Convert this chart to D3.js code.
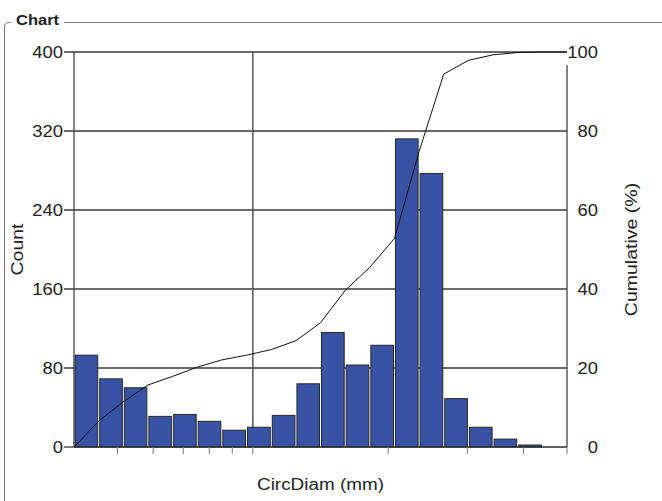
<!DOCTYPE html>
<html>
<head>
<meta charset="utf-8">
<script src="https://cdn.jsdelivr.net/npm/d3@7/dist/d3.min.js"></script>
<style>
  html, body { margin: 0; padding: 0; background: #fff; }
  svg { display: block; font-family: "Liberation Sans", Arial, sans-serif; }
</style>
</head>
<body>
<svg id="chart" width="662" height="501"></svg>
<script>
// ---- data ----
const binEdges = [4, 4.54, 5.15, 5.84, 6.63, 7.52, 8.53, 9.68, 10.99, 12.47, 14.14,
                  16.05, 18.21, 20.66, 23.44, 26.59, 30.17, 34.24, 38.84, 44.07, 50];
const counts = [93, 69, 60, 31, 33, 26, 17, 20, 32, 64, 116, 83, 103, 312, 277, 49, 20, 8, 2, 0];
const xTicks = [5, 6, 7, 8, 9, 10, 20, 30, 40, 50];
const xGrid = [10];
const countTicks = [0, 80, 160, 240, 320, 400];
const pctTicks = [0, 20, 40, 60, 80, 100];
const title = "Chart";
const xTitle = "CircDiam (mm)";
const yTitle = "Count";
const y2Title = "Cumulative (%)";

// ---- layout ----
const L = 74, R = 567, T = 52, B = 447;
const svg = d3.select("#chart");

const x = d3.scaleLog().domain([4, 50]).range([L, R]);
const y = d3.scaleLinear().domain([0, 400]).range([B, T]);
const y2 = d3.scaleLinear().domain([0, 100]).range([B, T]);

function stretch(sel, f) {
  sel.each(function () {
    const w = this.getComputedTextLength();
    d3.select(this).attr("textLength", w * f).attr("lengthAdjust", "spacingAndGlyphs");
  });
}

// frame (group box)
svg.append("path")
  .attr("d", "M4.5,501 L4.5,27 Q4.5,22.5 9,22.5 L11,22.5")
  .attr("fill", "none").attr("stroke", "#777").attr("stroke-width", 1);
svg.append("line").attr("x1", 64).attr("x2", 662).attr("y1", 22.5).attr("y2", 22.5)
  .attr("stroke", "#777").attr("stroke-width", 1);
svg.append("text").attr("x", 16).attr("y", 25).text(title)
  .attr("font-size", 15).attr("font-weight", "bold").attr("fill", "#222")
  .call(stretch, 1.1);

// horizontal gridlines (incl. left tick marks)
svg.append("g").selectAll("line").data(countTicks.filter(d => d > 0)).join("line")
  .attr("x1", 64).attr("x2", R).attr("y1", d => y(d)).attr("y2", d => y(d))
  .attr("stroke", "#3a3a3a").attr("stroke-width", 1.3);

// vertical gridline
svg.append("g").selectAll("line").data(xGrid).join("line")
  .attr("x1", d => x(d)).attr("x2", d => x(d)).attr("y1", T).attr("y2", B)
  .attr("stroke", "#555").attr("stroke-width", 1.5);

// bars
const bins = counts.map((c, i) => ({ lo: binEdges[i], hi: binEdges[i + 1], c }));
svg.append("g").selectAll("rect").data(bins.filter(d => d.c > 0)).join("rect")
  .attr("x", d => x(d.lo) + 1)
  .attr("width", d => x(d.hi) - x(d.lo) - 2)
  .attr("y", d => y(d.c))
  .attr("height", d => B - y(d.c))
  .attr("fill", "#3853a4")
  .attr("stroke", "#262626").attr("stroke-width", 1);

// cumulative line
const total = d3.sum(counts);
const cum = Array.from(d3.cumsum(counts), v => v / total * 100);
const pts = [[binEdges[0], 0]].concat(cum.map((v, i) => [binEdges[i + 1], v]));
svg.append("path").datum(pts)
  .attr("d", d3.line().x(d => x(d[0])).y(d => y2(d[1])))
  .attr("fill", "none").attr("stroke", "#111").attr("stroke-width", 1);

// axes lines
svg.append("line").attr("x1", L).attr("x2", L).attr("y1", T).attr("y2", B)
  .attr("stroke", "#444").attr("stroke-width", 1.3);
svg.append("line").attr("x1", R).attr("x2", R).attr("y1", 65).attr("y2", B)
  .attr("stroke", "#444").attr("stroke-width", 1.3);
// left tick at 0
svg.append("line").attr("x1", 64).attr("x2", L).attr("y1", y(0)).attr("y2", y(0))
  .attr("stroke", "#3a3a3a").attr("stroke-width", 1.3);
// x-axis line
svg.append("line").attr("x1", L).attr("x2", R).attr("y1", B).attr("y2", B)
  .attr("stroke", "#2a2a2a").attr("stroke-width", 1.5);
// x ticks
svg.append("g").selectAll("line").data(xTicks).join("line")
  .attr("x1", d => x(d)).attr("x2", d => x(d)).attr("y1", B).attr("y2", B + 7)
  .attr("stroke", "#777").attr("stroke-width", 1);

// tick labels
svg.append("g").selectAll("text").data(countTicks).join("text")
  .attr("x", 63).attr("y", d => y(d)).attr("dy", "0.36em")
  .attr("text-anchor", "end").attr("font-size", 16).attr("fill", "#222")
  .text(d => d).call(stretch, 1.15);
svg.append("g").selectAll("text").data(pctTicks).join("text")
  .attr("x", 598).attr("y", d => y2(d)).attr("dy", "0.36em")
  .attr("text-anchor", "end").attr("font-size", 16).attr("fill", "#222")
  .text(d => d).call(stretch, 1.15);

// titles
svg.append("text").attr("x", (L + R) / 2).attr("y", 490)
  .attr("text-anchor", "middle").attr("font-size", 16).attr("fill", "#222")
  .text(xTitle).call(stretch, 1.18);
svg.append("text").attr("transform", `translate(23,${(T + B) / 2}) rotate(-90)`)
  .attr("text-anchor", "middle").attr("font-size", 16).attr("fill", "#222")
  .text(yTitle).call(stretch, 1.22);
svg.append("text").attr("transform", `translate(637,${(T + B) / 2}) rotate(-90)`)
  .attr("text-anchor", "middle").attr("font-size", 16).attr("fill", "#222")
  .text(y2Title).call(stretch, 1.22);
</script>
</body>
</html>
